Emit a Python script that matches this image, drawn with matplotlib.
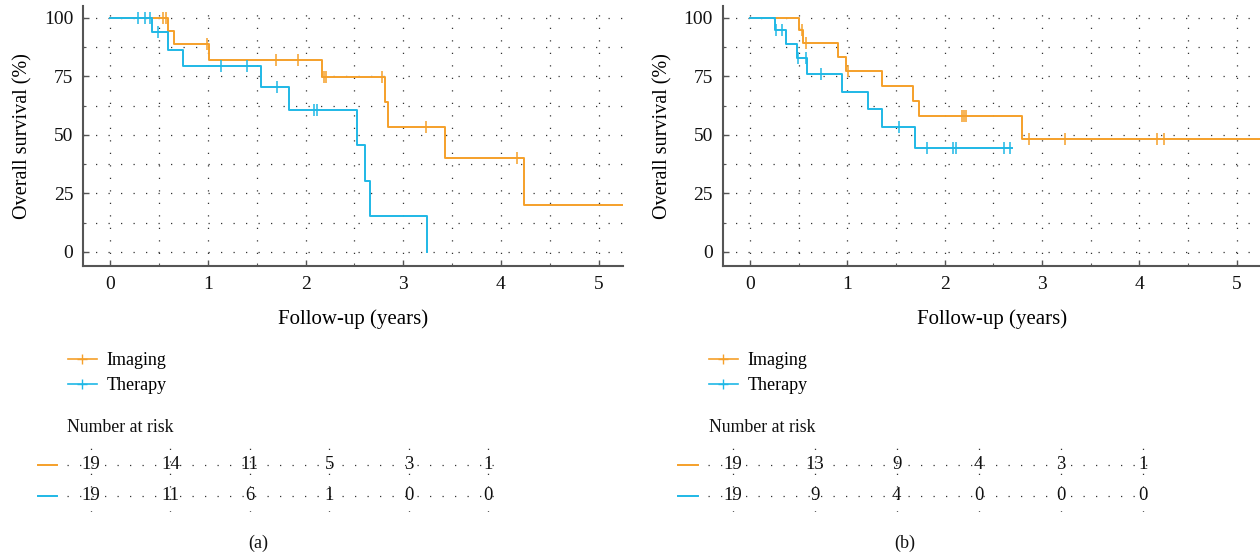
import numpy as np
import matplotlib
matplotlib.use('Agg')
import matplotlib.pyplot as plt
from matplotlib.lines import Line2D

plt.rcParams['font.family'] = ['Liberation Serif', 'DejaVu Serif']

# panel (a): step times (years) and survival (%) after each step
a_img_t = [0, 0.59, 0.65, 1.01, 2.17, 2.81, 2.84, 3.43, 4.24, 5.25]
a_img_s = [100, 94.4, 88.9, 82.1, 74.6, 64.0, 53.3, 40.0, 20.0, 20.0]
a_img_cens = [0.54, 0.57, 0.99, 1.70, 1.92, 2.19, 2.21, 2.78, 3.23, 4.16]
a_thr_t = [0, 0.43, 0.59, 0.74, 1.54, 1.83, 2.53, 2.61, 2.66, 3.24]
a_thr_s = [100, 94.1, 86.5, 79.3, 70.5, 60.8, 45.6, 30.4, 15.2, 0]
a_thr_cens = [0.28, 0.35, 0.41, 0.49, 1.13, 1.40, 1.71, 2.09, 2.12]

# panel (b)
b_img_t = [0, 0.50, 0.54, 0.90, 0.99, 1.36, 1.68, 1.74, 2.79, 5.25]
b_img_s = [100, 94.7, 89.2, 83.4, 77.4, 71.0, 64.5, 58.1, 48.4, 48.4]
b_img_cens = [0.53, 0.58, 1.01, 2.18, 2.20, 2.22, 2.87, 3.24, 4.18, 4.25]
b_thr_t = [0, 0.26, 0.37, 0.48, 0.59, 0.95, 1.21, 1.36, 1.70, 2.69]
b_thr_s = [100, 94.7, 88.9, 82.9, 76.2, 68.5, 61.0, 53.3, 44.4, 44.4]
b_thr_cens = [0.27, 0.33, 0.49, 0.58, 0.73, 1.53, 1.82, 2.09, 2.12, 2.61, 2.67]

# number at risk
risk_years = [0, 1, 2, 3, 4, 5]
a_risk_img = [19, 14, 11, 5, 3, 1]
a_risk_thr = [19, 11, 6, 1, 0, 0]
b_risk_img = [19, 13, 9, 4, 3, 1]
b_risk_thr = [19, 9, 4, 0, 0, 0]

labels = ['Imaging', 'Therapy']
c_img = '#F5A02A'
c_thr = '#1FB8E6'

W, H = 1260, 556
fig = plt.figure(figsize=(W / 100, H / 100), dpi=100)


def box(x0, y0, x1, y1):
    # pixel box (top-left origin) -> figure fraction
    return [x0 / W, 1 - y1 / H, (x1 - x0) / W, (y1 - y0) / H]


def surv_at(ts, ss, t):
    i = np.searchsorted(ts, t, side='right') - 1
    return ss[i]


def dotted_grid(ax, which):
    ax.grid(True, which=which, color='#333333', lw=0.9, linestyle=(0, (1.0, 9.0)))


def km_panel(ax, curves):
    for ts, ss, cens, col in curves:
        ax.step(ts, ss, where='post', color=col, lw=1.4, zorder=3)
        cy = [surv_at(ts, ss, t) for t in cens]
        ax.plot(cens, cy, ls='none', marker='|', ms=8, mew=1.1, color=col, zorder=4)
    ax.set_xlim(-0.28, 5.25)
    ax.set_ylim(-6.0, 105.1)
    ax.set_xticks([0, 1, 2, 3, 4, 5])
    ax.set_xticks(np.arange(0.5, 5.5, 1.0), minor=True)
    ax.set_yticks([0, 25, 50, 75, 100])
    ax.set_yticks([12.5, 37.5, 62.5, 87.5], minor=True)
    dotted_grid(ax, 'both')
    for s in ['top', 'right']:
        ax.spines[s].set_visible(False)
    for s in ['left', 'bottom']:
        ax.spines[s].set_color('#555555')
        ax.spines[s].set_linewidth(1.5)
    ax.tick_params(which='major', direction='in', length=4, width=1, colors='#555555',
                   labelcolor='#111111', labelsize=14, pad=7)
    ax.tick_params(which='minor', direction='in', length=2, width=0.8, colors='#555555')
    ax.set_xlabel('Follow-up (years)', fontsize=15, labelpad=12)
    ax.set_ylabel('Overall survival (%)', fontsize=14.5, labelpad=8)


def risk_panel(ax, img, thr):
    ax.set_xlim(-0.30, 5.15)
    ax.set_ylim(-0.52, 1.58)
    ax.set_xticks(risk_years)
    ax.set_yticks([0, 1])
    dotted_grid(ax, 'major')
    ax.tick_params(length=0, labelbottom=False, labelleft=False)
    for s in ax.spines.values():
        s.set_visible(False)
    for x, a, b in zip(risk_years, img, thr):
        ax.text(x, 1, str(a), ha='center', va='center', fontsize=13.5, color='#111111')
        ax.text(x, 0, str(b), ha='center', va='center', fontsize=13.5, color='#111111')
    tr = ax.get_yaxis_transform()
    ax.plot([-0.066, -0.022], [1, 1], color=c_img, lw=1.4, transform=tr, clip_on=False)
    ax.plot([-0.066, -0.022], [0, 0], color=c_thr, lw=1.4, transform=tr, clip_on=False)


ax_a = fig.add_axes(box(83, 6, 623, 266))
km_panel(ax_a, [(a_img_t, a_img_s, a_img_cens, c_img), (a_thr_t, a_thr_s, a_thr_cens, c_thr)])
ax_b = fig.add_axes(box(722.7, 6, 1261, 266))
km_panel(ax_b, [(b_img_t, b_img_s, b_img_cens, c_img), (b_thr_t, b_thr_s, b_thr_cens, c_thr)])

rk_a = fig.add_axes(box(67, 447, 500, 512))
risk_panel(rk_a, a_risk_img, a_risk_thr)
rk_b = fig.add_axes(box(708, 447, 1155, 512))
risk_panel(rk_b, b_risk_img, b_risk_thr)

handles = [Line2D([], [], color=c_img, lw=1.2, marker='+', ms=7, mew=1),
           Line2D([], [], color=c_thr, lw=1.2, marker='+', ms=7, mew=1)]
for lx, tx, tag, px in [(68, 67, '(a)', 258), (709, 709, '(b)', 905)]:
    fig.legend(handles, labels, loc='upper left', bbox_to_anchor=(lx / W, 1 - 352 / H),
               frameon=False, fontsize=13, handlelength=1.6, handletextpad=0.55,
               borderpad=0, borderaxespad=0, labelspacing=0.47)
    fig.text(tx / W, 1 - 428 / H, 'Number at risk', fontsize=12.8, va='center', ha='left',
             color='#111111')
    fig.text(px / W, 1 - 543 / H, tag, fontsize=13, va='center', ha='center', color='#111111')

fig.savefig('out.png', dpi=100)
